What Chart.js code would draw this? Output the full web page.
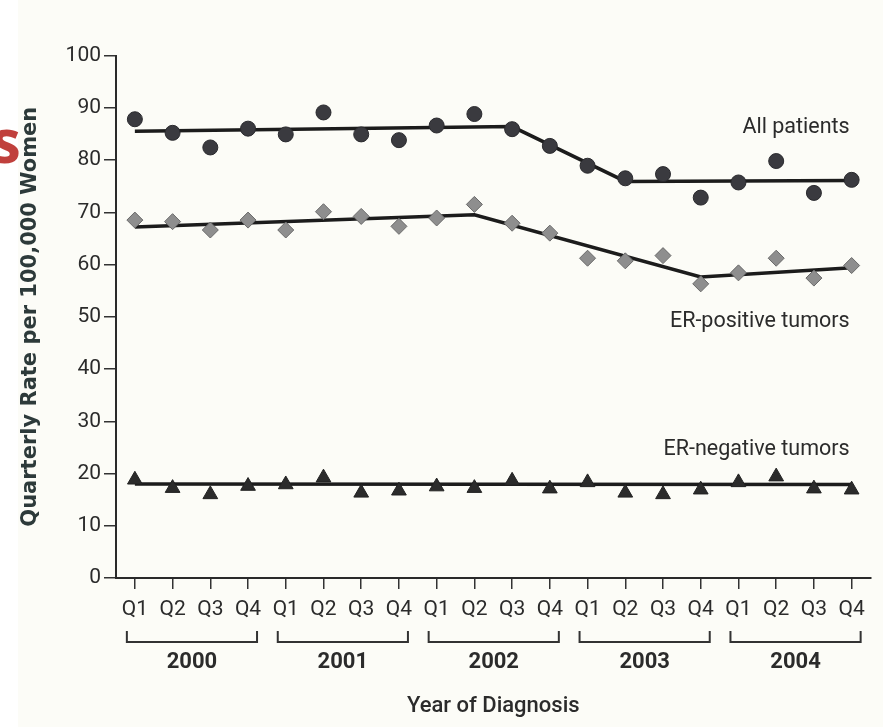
<!DOCTYPE html>
<html>
<head>
<meta charset="utf-8">
<script src="https://cdn.jsdelivr.net/npm/chart.js@4/dist/chart.umd.min.js"></script>
<style>
  html, body { margin: 0; padding: 0; background: #ffffff; }
  #wrap { width: 883px; height: 727px; position: relative; }
</style>
</head>
<body>
<div id="wrap"><canvas id="c" width="883" height="727"></canvas></div>
<script>
// ---- data ----
const quarters = ['Q1','Q2','Q3','Q4','Q1','Q2','Q3','Q4','Q1','Q2','Q3','Q4','Q1','Q2','Q3','Q4','Q1','Q2','Q3','Q4'];
const years = ['2000','2001','2002','2003','2004'];
const yTicks = [0,10,20,30,40,50,60,70,80,90,100];

const allPatients = [87.8, 85.2, 82.4, 86.0, 84.9, 89.1, 84.9, 83.8, 86.6, 88.8, 85.9, 82.7, 78.9, 76.5, 77.3, 72.8, 75.7, 79.8, 73.7, 76.2];
const erPositive  = [68.5, 68.2, 66.6, 68.5, 66.6, 70.1, 69.2, 67.3, 68.9, 71.5, 67.9, 66.0, 61.2, 60.7, 61.7, 56.3, 58.4, 61.2, 57.4, 59.8];
const erNegative  = [18.8, 17.2, 16.0, 17.6, 17.9, 19.2, 16.3, 16.7, 17.5, 17.2, 18.6, 17.1, 18.3, 16.3, 16.0, 16.9, 18.3, 19.4, 17.1, 16.9];

// joinpoint trend values (only at the joinpoints)
const allTrend   = [85.5, null, null, null, null, null, null, null, null, null, 86.4, null, null, 75.9, null, null, null, null, null, 76.1];
const erPosTrend = [67.2, null, null, null, null, null, null, null, null, 69.5, null, null, null, null, null, 57.6, null, null, null, 59.4];
const erNegTrend = [18.0, null, null, null, null, null, null, null, null, null, null, null, null, null, null, null, null, null, null, 17.9];

const seriesLabels = ['All patients', 'ER-positive tumors', 'ER-negative tumors'];
const seriesLabelValues = [86.2, 49.0, 24.6];

const TXT = '#2b2b2b';

const decor = {
  id: 'decor',
  beforeDraw(chart) {
    const ctx = chart.ctx;
    ctx.save();
    ctx.fillStyle = '#ffffff';
    ctx.fillRect(0, 0, chart.width, chart.height);
    ctx.fillStyle = '#fcfcf7';
    ctx.fillRect(18, 0, chart.width - 18, chart.height);
    ctx.restore();
  },
  afterDraw(chart) {
    const ctx = chart.ctx;
    const xs = chart.scales.x, ys = chart.scales.y;
    ctx.save();
    // year brackets + labels
    ctx.strokeStyle = '#333333';
    ctx.lineWidth = 2;
    ctx.fillStyle = TXT;
    ctx.font = 'bold 22px Roboto';
    ctx.textAlign = 'center';
    ctx.textBaseline = 'middle';
    years.forEach((yr, k) => {
      const x0 = xs.getPixelForValue(4 * k) - 8;
      const x1 = xs.getPixelForValue(4 * k + 3) + 9;
      ctx.beginPath();
      ctx.moveTo(x0, 631);
      ctx.lineTo(x0, 642);
      ctx.lineTo(x1, 642);
      ctx.lineTo(x1, 631);
      ctx.stroke();
      ctx.fillText(yr, (x0 + x1) / 2, 662);
    });
    // series labels
    ctx.font = '21.5px Roboto';
    ctx.textAlign = 'right';
    const xr = xs.getPixelForValue(19) - 2;
    seriesLabels.forEach((t, i) => {
      ctx.fillText(t, xr, ys.getPixelForValue(seriesLabelValues[i]));
    });
    // cropped slide-title fragment at left
    ctx.fillStyle = '#c0403c';
    ctx.font = 'bold 60px "Open Sans"';
    ctx.textAlign = 'left';
    ctx.textBaseline = 'alphabetic';
    ctx.fillText('s', -9, 163);
    ctx.restore();
  }
};

new Chart(document.getElementById('c'), {
  type: 'line',
  data: {
    labels: quarters,
    datasets: [
      { label: 'All patients', data: allPatients, showLine: false, pointStyle: 'circle', pointRadius: 7.5,
        backgroundColor: '#3a3a3f', borderColor: '#2a2a2e', pointBorderWidth: 1 },
      { label: 'ER-positive tumors', data: erPositive, showLine: false, pointStyle: 'rectRot', pointRadius: 8,
        backgroundColor: '#8e8e8e', borderColor: '#6a6a6a', pointBorderWidth: 1 },
      { label: 'ER-negative tumors', data: erNegative, showLine: false, pointStyle: 'triangle', pointRadius: 8.5,
        backgroundColor: '#2b2b2b', borderColor: '#222222', pointBorderWidth: 1 },
      { label: 'All trend', data: allTrend, spanGaps: true, borderColor: '#1c1c1c', borderWidth: 3.5, pointRadius: 0, tension: 0 },
      { label: 'ER+ trend', data: erPosTrend, spanGaps: true, borderColor: '#1c1c1c', borderWidth: 3.5, pointRadius: 0, tension: 0 },
      { label: 'ER- trend', data: erNegTrend, spanGaps: true, borderColor: '#1c1c1c', borderWidth: 3.5, pointRadius: 0, tension: 0 }
    ]
  },
  options: {
    responsive: false,
    animation: false,
    devicePixelRatio: 1,
    layout: { padding: { left: 0, right: 12.5, top: 55.5, bottom: 0 } },
    plugins: { legend: { display: false }, tooltip: { enabled: false } },
    scales: {
      x: {
        type: 'category',
        offset: true,
        grid: { drawOnChartArea: false, drawTicks: true, tickLength: 11, color: '#333333', lineWidth: 1.5, offset: false },
        border: { display: true, color: '#2a2a2a', width: 2 },
        ticks: { color: TXT, font: { family: 'Roboto', size: 21 }, padding: 8, maxRotation: 0, autoSkip: false },
        title: { display: true, text: 'Year of Diagnosis', color: TXT, font: { family: 'Roboto', size: 22, weight: '500' }, padding: { top: 0, bottom: 7 } },
        afterFit(s) { s.height = 149; }
      },
      y: {
        min: 0, max: 100,
        afterBuildTicks(s) { s.ticks = yTicks.map(v => ({ value: v })); },
        grid: { drawOnChartArea: false, drawTicks: true, tickLength: 12, color: '#333333', lineWidth: 1.5 },
        border: { display: true, color: '#2a2a2a', width: 2 },
        ticks: { color: TXT, font: { family: 'Roboto', size: 21 }, padding: 3 },
        title: { display: true, text: 'Quarterly Rate per 100,000 Women', color: '#2d3a3a', font: { family: 'DejaVu Sans', size: 21, weight: 'bold' }, padding: { top: 18, bottom: 0 } },
        afterFit(s) { s.width = 116; }
      }
    }
  },
  plugins: [decor]
});
</script>
</body>
</html>
